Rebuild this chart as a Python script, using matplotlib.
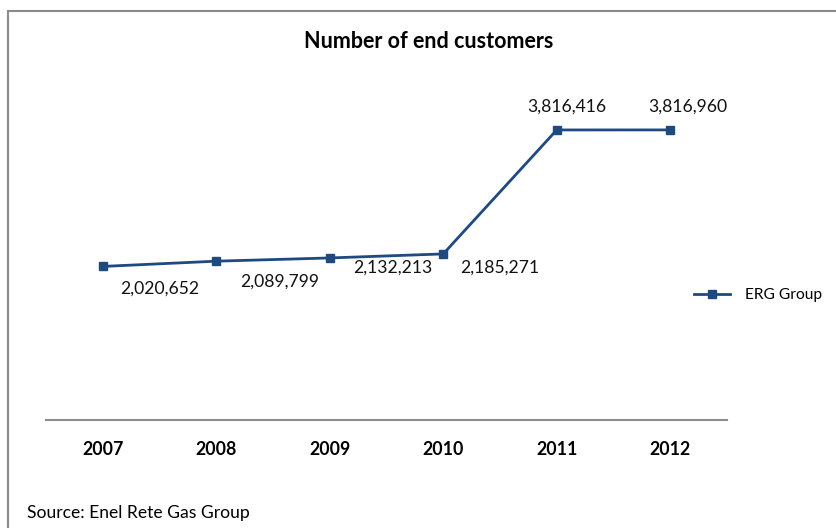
import matplotlib.pyplot as plt
from matplotlib.patches import Rectangle

plt.rcParams['font.family'] = ['Lato', 'DejaVu Sans']

years = ['2007', '2008', '2009', '2010', '2011', '2012']
customers = [2020652, 2089799, 2132213, 2185271, 3816416, 3816960]
series_name = 'ERG Group'

# label offsets in pixels (dx, dy) relative to each point
label_offsets = [(57, -22), (63, -20), (63, -10), (56, -14), (10, 23), (18, 23)]

W, H = 837, 528
fig = plt.figure(figsize=(W / 100, H / 100), dpi=100)
ax = fig.add_axes([46 / W, (H - 420) / H, (727 - 46) / W, (420 - 78) / H])

line_color = '#1F4A80'
x = list(range(len(years)))
ax.plot(x, customers, color=line_color, linewidth=2, marker='s', markersize=6,
        label=series_name)

for xi, val, (dx, dy) in zip(x, customers, label_offsets):
    ax.annotate(f'{val:,}', (xi, val), xytext=(dx, dy), textcoords='offset pixels',
                ha='center', va='center', fontsize=12.6, color='#111111')

ax.set_xlim(-0.5, len(years) - 0.5)
ax.set_ylim(0, 4500000)
ax.set_xticks(x)
ax.set_xticklabels(years, fontweight='bold', fontsize=12.8)
ax.tick_params(axis='x', length=0, pad=15)
ax.set_yticks([])
for side in ['top', 'right', 'left']:
    ax.spines[side].set_visible(False)
ax.spines['bottom'].set_color('#8C8C8C')
ax.spines['bottom'].set_linewidth(1.5)

fig.text(429 / W, 1 - 41 / H, 'Number of end customers', ha='center', va='center',
         fontsize=15.5, fontweight='bold')
fig.text(27 / W, 1 - 513 / H, 'Source: Enel Rete Gas Group', ha='left', va='center',
         fontsize=12.6)

fig.legend(loc='center left', bbox_to_anchor=(680 / W, 1 - 295 / H), frameon=False,
           fontsize=11.2, handlelength=2.3, handletextpad=1.0)

# outer frame around the chart area
fig.patches.append(Rectangle((8 / W, -0.1), 1.2, 1 - 11 / H + 0.1, transform=fig.transFigure,
                             fill=False, edgecolor='#8A8A8A', linewidth=1.5))

fig.savefig('out.png', dpi=100)
